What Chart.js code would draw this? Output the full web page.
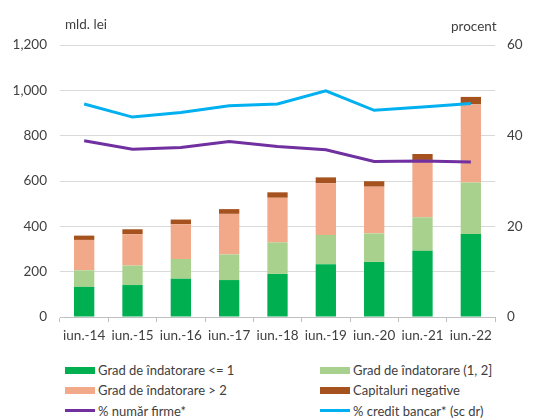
<!DOCTYPE html>
<html>
<head>
<meta charset="utf-8">
<script src="https://cdn.jsdelivr.net/npm/chart.js@4/dist/chart.umd.min.js"></script>
<style>
  body { margin: 0; background: #fff; font-family: Lato, "Open Sans", sans-serif; color: #404040; }
  #wrap { position: relative; width: 550px; height: 419px; }
  #chart-box { position: absolute; left: 0; top: 0; width: 550px; height: 350px; }
  .unit { position: absolute; font-size: 13.5px; }
  #legend { position: absolute; left: 65px; top: 362px; width: 480px; font-size: 13px; }
  .item { position: absolute; display: flex; align-items: center; white-space: nowrap; }
  .swatch { display: inline-block; width: 30px; margin-right: 3px; }
</style>
</head>
<body>
<div id="wrap">
  <div id="chart-box"><canvas id="c"></canvas></div>
  <div class="unit" style="left:65px; top:16px;">mld. lei</div>
  <div class="unit" style="left:451px; top:18px;">procent</div>
  <div id="legend"></div>
</div>
<script>
const labels = ['iun.-14', 'iun.-15', 'iun.-16', 'iun.-17', 'iun.-18', 'iun.-19', 'iun.-20', 'iun.-21', 'iun.-22'];

// mld. lei, stacked
const gradLow = [133, 141, 169, 163, 190, 233, 243, 292, 366];
const gradMid = [73, 86, 87, 113, 139, 129, 126, 148, 227];
const gradHigh = [134, 138, 153, 179, 197, 228, 206, 253, 345];
const capNeg = [19, 22, 21, 21, 24, 26, 24, 26, 33];

// procent
const pctFirme = [38.9, 37.0, 37.4, 38.7, 37.6, 36.9, 34.3, 34.4, 34.2];
const pctCredit = [47.0, 44.1, 45.1, 46.6, 47.0, 49.9, 45.6, 46.3, 47.1];

const barW = 0.42;

function bar(label, data, color) {
  return {
    type: 'bar', label, data, backgroundColor: color, borderWidth: 0,
    yAxisID: 'y', stack: 's', order: 2,
    categoryPercentage: 1, barPercentage: barW
  };
}
function line(label, data, color) {
  return {
    type: 'line', label, data, borderColor: color, backgroundColor: color,
    borderWidth: 3, pointRadius: 0, tension: 0, yAxisID: 'y1', order: 0
  };
}

const datasets = [
  bar('Grad de îndatorare <= 1', gradLow, '#00b050'),
  bar('Grad de îndatorare (1, 2]', gradMid, '#a9d18e'),
  bar('Grad de îndatorare > 2', gradHigh, '#f2a98a'),
  bar('Capitaluri negative', capNeg, '#a5521f'),
  line('% număr firme*', pctFirme, '#7030a0'),
  line(' % credit bancar* (sc dr)', pctCredit, '#00b0f0')
];

Chart.defaults.font.family = 'Lato, "Open Sans", sans-serif';
Chart.defaults.font.size = 13.5;
Chart.defaults.color = '#404040';

new Chart(document.getElementById('c'), {
  data: { labels, datasets },
  options: {
    responsive: true,
    maintainAspectRatio: false,
    animation: false,
    layout: { padding: { top: 45, left: 0, right: 0, bottom: 0 } },
    plugins: { legend: { display: false }, tooltip: { enabled: false } },
    scales: {
      x: {
        stacked: true,
        offset: true,
        grid: { offset: true, drawOnChartArea: false, drawTicks: true, tickLength: 5, color: '#bfbfbf' },
        border: { color: '#bfbfbf' },
        ticks: { padding: 6, maxRotation: 0, autoSkip: false },
        afterFit: s => { s.height = 33; }
      },
      y: {
        stacked: true,
        position: 'left',
        min: 0, max: 1200,
        ticks: { stepSize: 200, padding: 13, callback: v => v.toLocaleString('en-US') },
        grid: { color: '#d9d9d9', drawTicks: false },
        border: { display: false },
        afterFit: s => { s.width = 60; }
      },
      y1: {
        position: 'right',
        min: 0, max: 60,
        ticks: { stepSize: 20, padding: 12 },
        grid: { drawOnChartArea: false, drawTicks: false },
        border: { display: false },
        afterFit: s => { s.width = 55; }
      }
    }
  }
});

// legend in two columns, like the original
const legend = document.getElementById('legend');
datasets.forEach((d, i) => {
  const el = document.createElement('div');
  el.className = 'item';
  el.style.left = (i % 2 ? 255 : 0) + 'px';
  el.style.top = (Math.floor(i / 2) * 20.3) + 'px';
  const sw = document.createElement('span');
  sw.className = 'swatch';
  sw.style.height = d.type === 'line' ? '3px' : '7px';
  sw.style.background = d.type === 'line' ? d.borderColor : d.backgroundColor;
  el.appendChild(sw);
  el.appendChild(document.createTextNode(d.label));
  legend.appendChild(el);
});
</script>
</body>
</html>
